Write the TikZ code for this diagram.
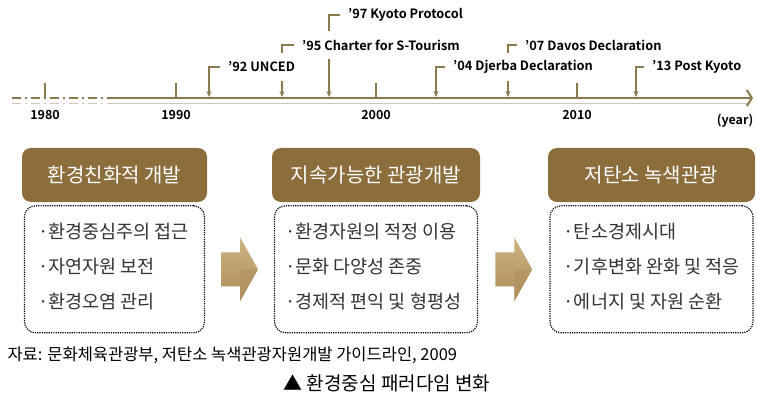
\documentclass[tikz,border=0pt]{standalone}
\usepackage{fontspec}
\setmainfont{Noto Sans CJK KR}[BoldFont={Noto Sans CJK KR Bold}]
\usepackage{tikz}
\usetikzlibrary{arrows.meta,positioning,backgrounds,calc}

\definecolor{axisolive}{HTML}{8B7A4E}
\definecolor{axisshade}{HTML}{CDC6B2}
\definecolor{headbrown}{HTML}{8C6E3C}
\definecolor{arrtan}{HTML}{CDB282}
\definecolor{arrdark}{HTML}{AE8F5C}
\definecolor{itemgray}{HTML}{333333}

\begin{document}
\begin{tikzpicture}[x=1pt,y=-1pt,>={Stealth[length=6pt,width=5pt]},
    event/.style={font=\fontsize{12.8}{14}\selectfont\bfseries,fill=white,anchor=west,
        minimum height=28pt,inner xsep=3pt},
    year/.style={font=\fontsize{12.5}{14}\selectfont\bfseries},
    pointer/.style={->,axisolive,line width=1.2pt,shorten <=5pt},
    head/.style={rounded corners=9pt,fill=headbrown,text=white,
        font=\fontsize{20}{22}\selectfont,minimum height=54pt},
    body/.style={draw,rounded corners=11pt,line width=1.2pt,
        dash pattern=on 1.2pt off 1.1pt,minimum height=127pt},
    items/.style={font=\fontsize{18.5}{35}\selectfont,text=itemgray,align=left,inner sep=0pt},
    blockarrow/.style={top color=arrtan,bottom color=arrdark},
    ]
    \useasboundingbox (0,0) rectangle (757,398);

    % time axis
    \coordinate (a0) at (12,98);
    \coordinate (a1) at (115,98);
    \coordinate (a2) at (753,98);
    \coordinate (s0) at (12,104);
    \coordinate (s1) at (115,104);
    \coordinate (s2) at (750,104);
    \draw[axisshade,line width=1pt,dash pattern=on 9pt off 4pt on 2pt off 4pt] (s0) -- (s1);
    \draw[axisshade,line width=1pt] (s1) -- (s2);
    \draw[axisolive,line width=2pt,dash pattern=on 9pt off 4pt on 2pt off 4pt] (a0) -- (a1);
    \draw[axisolive,line width=2pt,-{Straight Barb[length=5pt,width=16pt]}] (a1) -- (a2);

    \foreach \yr/\x in {1980/45,1990/176,2000/376,2010/577}{
        \coordinate (t\yr) at (\x,99);
        \draw[axisolive,line width=1.2pt] (t\yr) -- ++(0,-16);
        \node[year] (y\yr) at (\x,115) {\yr};
    }
    \node[year] (unit) at (735,121) {(year)};

    % events
    \foreach \x/\tx/\ty/\n/\txt in {209/228/67/92/’92 UNCED,
        282/302/45/95/’95 Charter for S-Tourism,
        329/348/15/97/’97 Kyoto Protocol,
        436/453/67/04/’04 Djerba Declaration,
        508/525/45/07/’07 Davos Declaration,
        636/652/67/13/’13 Post Kyoto}{
        \coordinate (e\n) at (\x,97);
        \node[event] (l\n) at (\tx-3,\ty) {\txt};
        \begin{scope}[on background layer]
            \draw[pointer] (l\n.west) -| (e\n);
        \end{scope}
    }

    % paradigm boxes
    \node[head,minimum width=185pt] (h1) at (114.5,175) {환경친화적 개발};
    \node[body,minimum width=180pt] (b1) [below=3pt of h1] {};
    \node[items] (i1) [right=14pt of b1.west,yshift=3pt] {·환경중심주의 접근\\·자연자원 보전\\·환경오염 관리};

    \node[head,minimum width=208pt] (h2) at (376,175) {지속가능한 관광개발};
    \node[body,minimum width=203pt] (b2) [below=3pt of h2] {};
    \node[items] (i2) [right=11pt of b2.west,yshift=3pt] {·환경자원의 적정 이용\\·문화 다양성 존중\\·경제적 편익 및 형평성};

    \node[head,minimum width=207pt] (h3) at (651.5,175) {저탄소 녹색관광};
    \node[body,minimum width=203pt] (b3) [below=3pt of h3] {};
    \node[items] (i3) [right=14pt of b3.west,yshift=3pt] {·탄소경제시대\\·기후변화 완화 및 적응\\·에너지 및 자원 순환};

    % block arrows
    \coordinate (k1) at ($(b1.east)!.5!(b2.west)$);
    \coordinate (k2) at ($(b2.east)!.5!(b3.west)$);
    \foreach \k in {k1,k2}{
        \shade[blockarrow] ($(\k)+(-18.5,-17)$) -- ++(19,0) -- ++(0,-15) -- ++(18,32)
            -- ++(-18,32) -- ++(0,-15) -- ++(-19,0) -- cycle;
        \fill[arrdark,opacity=.45] ($(\k)+(0.5,0)$) -- ++(18,0) -- ++(-18,32) -- cycle;
    }

    % source and caption
    \node[anchor=west,font=\fontsize{16.5}{18}\selectfont] (src) at (4,355)
        {자료: 문화체육관광부, 저탄소 녹색관광자원개발 가이드라인, 2009};
    \node[font=\fontsize{19}{21}\selectfont] (ttl) at (387,383) {▲ 환경중심 패러다임 변화};
\end{tikzpicture}
\end{document}
